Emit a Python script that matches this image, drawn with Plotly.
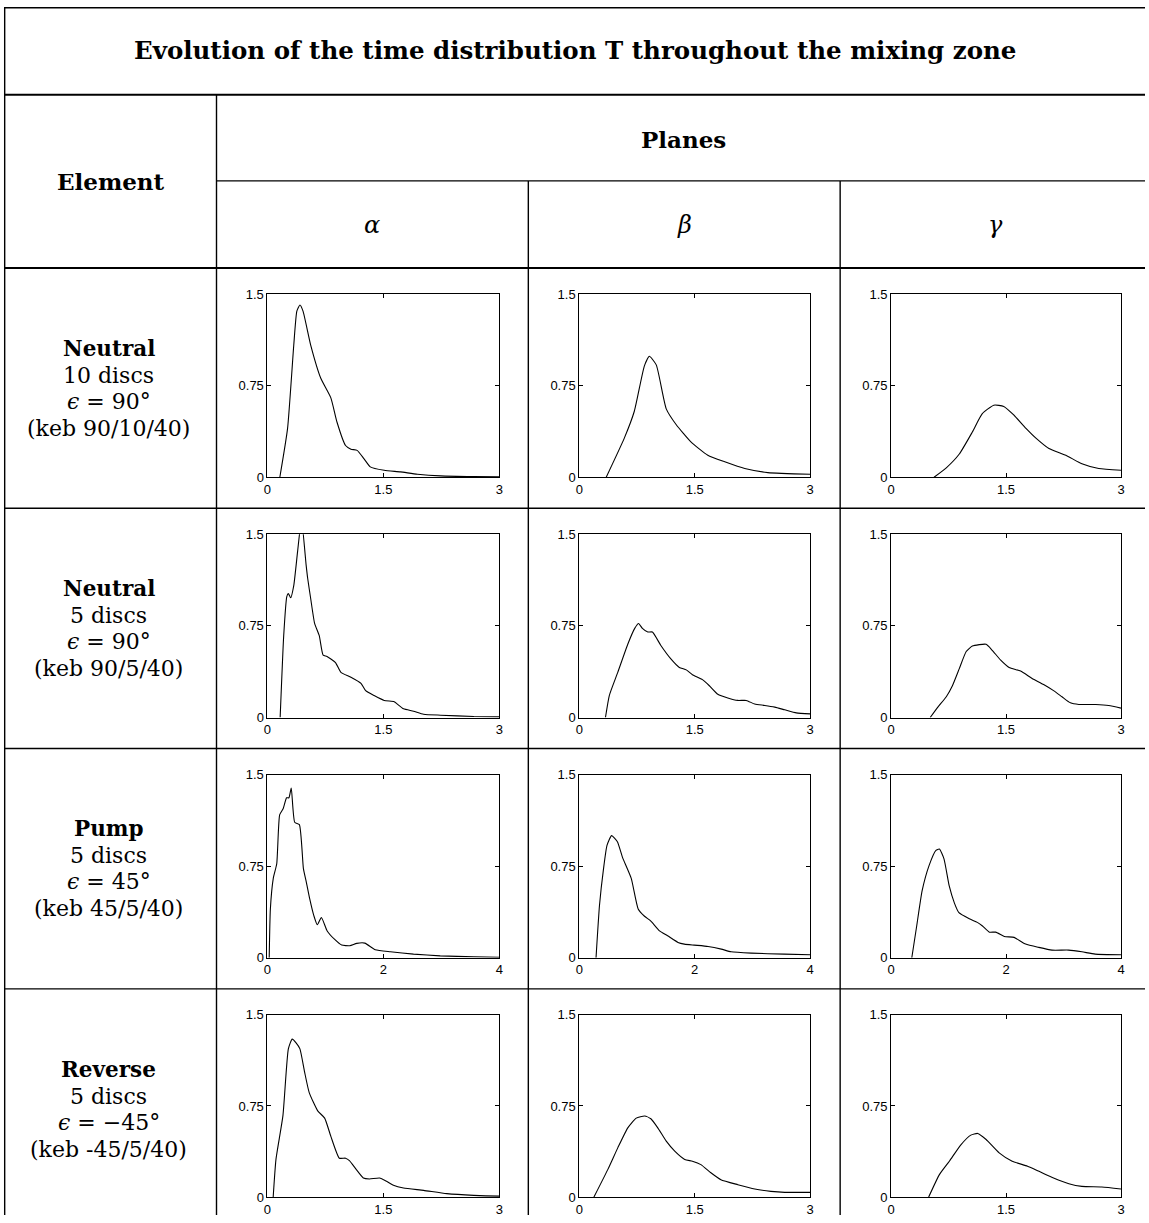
import plotly.graph_objects as go

W, H = 1149, 1223
# observed capture of the page: image = S * (page + D); invert it so marks land where the reference has them
SX, DX = 0.9936, 3.4
SY, DY = 0.9866, 7.4

# ---------------- data ----------------
title_text = "Evolution of the time distribution T throughout the mixing zone"
element_names = ["Neutral", "Neutral", "Pump", "Reverse"]
disc_labels = ["10 discs", "5 discs", "5 discs", "5 discs"]
angle_labels = ["90°", "90°", "45°", "−45°"]
keb_labels = ["(keb 90/10/40)", "(keb 90/5/40)", "(keb 45/5/40)", "(keb -45/5/40)"]
plane_names = ["α", "β", "γ"]

x_max = [3, 3, 4, 3]
x_tickvals = [[0, 1.5, 3], [0, 1.5, 3], [0, 2, 4], [0, 1.5, 3]]
x_ticktext = [["0", "1.5", "3"], ["0", "1.5", "3"], ["0", "2", "4"], ["0", "1.5", "3"]]
y_tickvals = [0, 0.75, 1.5]
y_ticktext = ["0", "0.75", "1.5"]

# Neutral 10 discs
n10_alpha_t = [0.16, 0.26, 0.34, 0.38, 0.42, 0.46, 0.56, 0.69, 0.82, 0.90, 1.01, 1.08, 1.16, 1.25, 1.33, 1.51, 1.72, 1.94, 2.24, 2.67, 3.0]
n10_alpha_T = [0.0, 0.40, 1.08, 1.36, 1.41, 1.36, 1.08, 0.81, 0.65, 0.45, 0.26, 0.23, 0.22, 0.15, 0.085, 0.057, 0.044, 0.025, 0.011, 0.005, 0.003]
n10_beta_t = [0.35, 0.585, 0.715, 0.845, 0.91, 1.0, 1.13, 1.26, 1.45, 1.67, 1.89, 2.15, 2.45, 3.0]
n10_beta_T = [0.0, 0.32, 0.54, 0.91, 0.99, 0.92, 0.56, 0.43, 0.29, 0.18, 0.126, 0.071, 0.038, 0.025]
n10_gamma_t = [0.56, 0.72, 0.89, 1.06, 1.19, 1.34, 1.47, 1.60, 1.76, 1.89, 2.06, 2.28, 2.49, 2.71, 3.0]
n10_gamma_T = [0.0, 0.077, 0.19, 0.37, 0.52, 0.59, 0.58, 0.51, 0.40, 0.32, 0.235, 0.18, 0.11, 0.071, 0.057]

# Neutral 5 discs
n5_alpha_t = [0.164, 0.21, 0.25, 0.27, 0.30, 0.34, 0.39, 0.44, 0.50, 0.52, 0.56, 0.61, 0.67, 0.72, 0.77, 0.88, 0.95, 1.08, 1.21, 1.27, 1.38, 1.51, 1.64, 1.68, 1.76, 1.89, 2.02, 2.24, 2.67, 3.0]
n5_alpha_T = [0.0, 0.67, 0.99, 1.015, 0.98, 1.08, 1.36, 1.62, 1.25, 1.14, 0.97, 0.77, 0.67, 0.51, 0.50, 0.45, 0.37, 0.33, 0.28, 0.22, 0.18, 0.14, 0.13, 0.11, 0.071, 0.052, 0.027, 0.019, 0.008, 0.005]
n5_beta_t = [0.34, 0.39, 0.50, 0.63, 0.72, 0.77, 0.82, 0.89, 0.95, 1.06, 1.19, 1.30, 1.39, 1.47, 1.60, 1.69, 1.80, 1.93, 2.06, 2.17, 2.28, 2.41, 2.54, 2.67, 2.82, 3.0]
n5_beta_T = [0.0, 0.18, 0.37, 0.60, 0.73, 0.77, 0.73, 0.70, 0.70, 0.59, 0.48, 0.41, 0.39, 0.35, 0.31, 0.26, 0.19, 0.16, 0.14, 0.14, 0.11, 0.099, 0.085, 0.063, 0.038, 0.03]
n5_gamma_t = [0.51, 0.61, 0.72, 0.80, 0.89, 0.98, 1.06, 1.24, 1.32, 1.43, 1.54, 1.69, 1.84, 1.99, 2.12, 2.23, 2.34, 2.45, 2.67, 2.84, 3.0]
n5_gamma_T = [0.0, 0.085, 0.17, 0.26, 0.40, 0.54, 0.585, 0.60, 0.55, 0.47, 0.41, 0.38, 0.32, 0.27, 0.22, 0.17, 0.12, 0.107, 0.107, 0.099, 0.077]

# Pump 5 discs
p5_alpha_t = [0.03, 0.05, 0.10, 0.16, 0.21, 0.27, 0.33, 0.37, 0.41, 0.47, 0.55, 0.62, 0.67, 0.73, 0.80, 0.86, 0.93, 1.03, 1.16, 1.28, 1.42, 1.54, 1.68, 1.86, 2.12, 2.52, 2.98, 3.56, 4.0]
p5_alpha_T = [0.0, 0.40, 0.65, 0.77, 1.17, 1.22, 1.31, 1.31, 1.39, 1.11, 1.09, 0.73, 0.62, 0.48, 0.345, 0.27, 0.33, 0.22, 0.15, 0.104, 0.099, 0.118, 0.12, 0.066, 0.049, 0.03, 0.016, 0.008, 0.005]
p5_beta_t = [0.29, 0.35, 0.42, 0.48, 0.56, 0.66, 0.75, 0.90, 1.02, 1.13, 1.24, 1.39, 1.53, 1.71, 1.82, 1.99, 2.23, 2.46, 2.63, 2.98, 3.55, 4.0]
p5_beta_T = [0.0, 0.43, 0.73, 0.92, 1.0, 0.95, 0.82, 0.65, 0.40, 0.34, 0.30, 0.22, 0.18, 0.126, 0.112, 0.104, 0.093, 0.071, 0.049, 0.038, 0.030, 0.025]
p5_gamma_t = [0.36, 0.445, 0.54, 0.66, 0.78, 0.84, 0.92, 1.01, 1.10, 1.18, 1.36, 1.50, 1.59, 1.71, 1.82, 1.97, 2.14, 2.34, 2.57, 2.80, 3.09, 3.32, 3.55, 4.0]
p5_gamma_T = [0.0, 0.26, 0.55, 0.755, 0.88, 0.89, 0.81, 0.59, 0.45, 0.37, 0.32, 0.29, 0.26, 0.21, 0.21, 0.175, 0.167, 0.112, 0.085, 0.063, 0.063, 0.049, 0.030, 0.025]

# Reverse 5 discs
r5_alpha_t = [0.074, 0.11, 0.20, 0.27, 0.32, 0.37, 0.42, 0.48, 0.54, 0.65, 0.74, 0.82, 0.93, 1.01, 1.06, 1.15, 1.24, 1.32, 1.45, 1.54, 1.63, 1.76, 2.02, 2.32, 2.67, 3.0]
r5_alpha_T = [0.0, 0.31, 0.67, 1.22, 1.30, 1.27, 1.22, 1.03, 0.86, 0.71, 0.65, 0.50, 0.32, 0.32, 0.30, 0.226, 0.157, 0.149, 0.157, 0.13, 0.097, 0.074, 0.055, 0.028, 0.014, 0.008]
r5_beta_t = [0.19, 0.37, 0.50, 0.63, 0.74, 0.85, 0.93, 1.02, 1.13, 1.24, 1.37, 1.47, 1.58, 1.71, 1.84, 2.06, 2.28, 2.49, 2.67, 3.0]
r5_beta_T = [0.0, 0.226, 0.405, 0.57, 0.65, 0.667, 0.645, 0.57, 0.46, 0.378, 0.31, 0.295, 0.267, 0.20, 0.143, 0.102, 0.066, 0.047, 0.039, 0.039]
r5_gamma_t = [0.49, 0.63, 0.76, 0.91, 1.04, 1.13, 1.24, 1.41, 1.58, 1.78, 1.93, 2.12, 2.32, 2.49, 2.75, 3.0]
r5_gamma_T = [0.0, 0.185, 0.295, 0.43, 0.51, 0.524, 0.474, 0.364, 0.295, 0.254, 0.212, 0.157, 0.11, 0.088, 0.083, 0.066]

curves = [
    [(n10_alpha_t, n10_alpha_T), (n10_beta_t, n10_beta_T), (n10_gamma_t, n10_gamma_T)],
    [(n5_alpha_t, n5_alpha_T), (n5_beta_t, n5_beta_T), (n5_gamma_t, n5_gamma_T)],
    [(p5_alpha_t, p5_alpha_T), (p5_beta_t, p5_beta_T), (p5_gamma_t, p5_gamma_T)],
    [(r5_alpha_t, r5_alpha_T), (r5_beta_t, r5_beta_T), (r5_gamma_t, r5_gamma_T)],
]

# ---------------- layout geometry (target image pixels) ----------------
col_px = [(267, 499), (579, 810), (891, 1121)]
row_px = [(294, 477), (534, 717), (774, 957), (1014, 1196)]


def px_x(x):
    p = x / SX - DX
    return min(max(p / W, 0.0), 1.0)


def px_y(y):
    p = y / SY - DY
    return min(max(1 - p / H, 0.0), 1.0)


SERIF = "DejaVu Serif"
SANS = "Liberation Sans"

fig = go.Figure()
layout = dict(
    width=W, height=H, margin=dict(l=0, r=0, t=0, b=0),
    paper_bgcolor="white", plot_bgcolor="white", showlegend=False,
)

k = 0
for r in range(4):
    for c in range(3):
        k += 1
        xs, ys = curves[r][c]
        xa = "x" if k == 1 else f"x{k}"
        ya = "y" if k == 1 else f"y{k}"
        fig.add_trace(go.Scatter(x=xs, y=ys, mode="lines", xaxis=xa, yaxis=ya,
                                 line=dict(color="black", width=1.1, shape="spline", smoothing=0.5),
                                 hoverinfo="skip"))
        x0, x1 = col_px[c]
        y0, y1 = row_px[r]
        common = dict(showline=True, linecolor="black", linewidth=1, mirror="allticks",
                      ticks="inside", ticklen=4, tickcolor="black", tickwidth=1,
                      showgrid=False, zeroline=False,
                      tickfont=dict(family=SANS, size=13, color="black"))
        layout["xaxis" if k == 1 else f"xaxis{k}"] = dict(
            domain=[px_x(x0), px_x(x1)], anchor=ya, range=[0, x_max[r]],
            tickmode="array", tickvals=x_tickvals[r], ticktext=x_ticktext[r], **common)
        layout["yaxis" if k == 1 else f"yaxis{k}"] = dict(
            domain=[px_y(y1), px_y(y0)], anchor=xa, range=[0, 1.5],
            tickmode="array", tickvals=y_tickvals, ticktext=y_ticktext, **common)

fig.update_layout(**layout)

# ---------------- table lines ----------------
shapes = []


def hline(y, xa, xb, w=1.4):
    shapes.append(dict(type="line", xref="paper", yref="paper",
                       x0=px_x(xa), x1=px_x(xb), y0=px_y(y), y1=px_y(y),
                       line=dict(color="black", width=w)))


def vline(x, ya, yb, w=1.4):
    shapes.append(dict(type="line", xref="paper", yref="paper",
                       x0=px_x(x), x1=px_x(x), y0=px_y(ya), y1=px_y(yb),
                       line=dict(color="black", width=w)))


hline(8, 0, W + 20)
hline(95, 0, W + 20, 2)
hline(181, 216, W + 20)
hline(268, 0, W + 20, 2)
for yy in [508, 748, 988]:
    hline(yy, 0, W + 20)
shapes.append(dict(type="line", xref="paper", yref="paper", x0=0.0006, x1=0.0006,
                   y0=px_y(8), y1=0, line=dict(color="black", width=1.4)))
vline(216, 95, H + 20)
vline(528, 181, H + 20)
vline(840, 181, H + 20)
fig.update_layout(shapes=shapes)

# ---------------- texts ----------------
ann = []


def text(x, y, s, size=24, family=SERIF):
    ann.append(dict(x=px_x(x), y=px_y(y), xref="paper", yref="paper", text=s,
                    showarrow=False, xanchor="center", yanchor="middle", borderpad=0,
                    font=dict(family=family, size=size, color="black")))


text(575, 51, f"<b>{title_text}</b>", 24.5)
text(110, 182, "<b>Element</b>", 23)
text(683, 140, "<b>Planes</b>", 23)
for c, name in enumerate(plane_names):
    text([372, 684, 995][c], 225, f"<i>{name}</i>", 24)

row_text_y = [(348, 375, 401, 428), (588, 615, 641, 668), (828, 855, 881, 908), (1069, 1096, 1122, 1148)]
for r in range(4):
    ys = row_text_y[r]
    text(108, ys[0], f"<b>{element_names[r]}</b>", 21.5)
    text(108, ys[1], disc_labels[r], 22)
    text(108, ys[2], f"<i>ϵ</i> = {angle_labels[r]}", 22)
    text(108, ys[3], keb_labels[r], 22)

fig.update_layout(annotations=ann)

fig.write_html("out.html", config={"displayModeBar": False},
               post_script="document.body.style.margin='0px';document.body.style.overflow='hidden';")
